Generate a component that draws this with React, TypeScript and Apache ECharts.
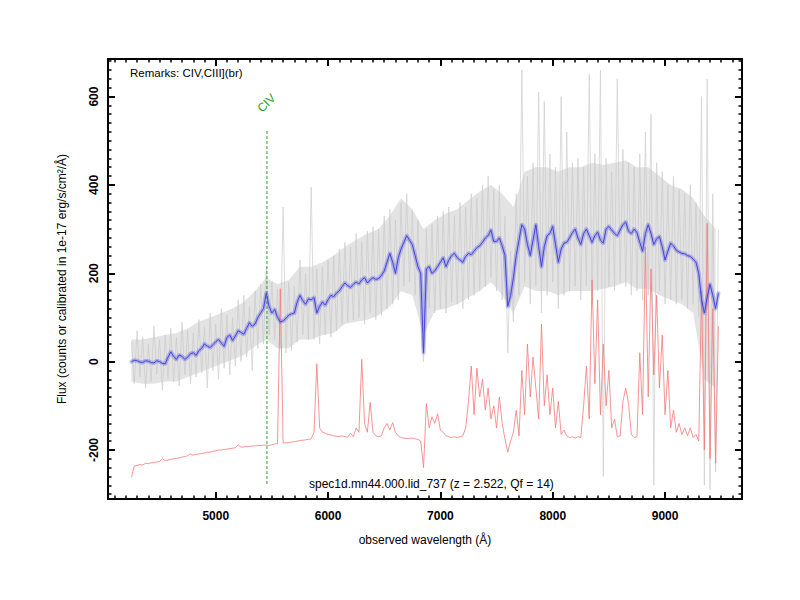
import React, { useEffect, useRef } from "react";
import * as echarts from "echarts";

const X_MIN = 4041;
const X_MAX = 9685;
const Y_MIN = -311;
const Y_MAX = 685;

const FONT = "'Liberation Sans', Arial, Helvetica, sans-serif";

// observed flux (individual exposures, grey), sampled every 25 Å from 4250 Å
const GRAY_START = 4250;
const GRAY_STEP = 25;
const grayFlux = [
  45, -50, 70, -35, 55, -60, 40, -45, 80, -30,
  50, -65, 60, -40, 75, -45, 55, -55, 90, -30,
  70, -50, 65, -35, 95, -25, 80, -60, 110, -20,
  85, -40, 120, -15, 105, -30, 100, -10, 140, 0,
  150, 10, 125, -20, 160, 30, 175, 40, 215, 60,
  180, 50, 165, 30, 350, 20, 180, 25, 170, 45,
  230, 60, 200, 50, 395, 50, 210, 40, 215, 60,
  230, 55, 240, 70, 255, 85, 270, 90, 260, 95,
  290, 100, 270, 85, 295, 110, 305, 95, 300, 105,
  330, 120, 345, 130, 320, 140, 360, 170, 380, 180,
  340, 150, 320, 110, 0, 300, 120, 310, 110, 330,
  120, 340, 110, 350, 135, 330, 130, 360, 120, 350,
  140, 380, 150, 370, 160, 400, 170, 420, 190, 390,
  160, 400, 140, 330, 20, 250, 90, 380, 150, 660,
  180, 420, 130, 450, 170, 610, 110, 590, 150, 470,
  180, 440, 120, 600, 150, 520, 160, 450, 170, 460,
  140, 440, 170, 650, 130, 470, 160, 660, -260, 460,
  170, 430, 160, 640, 180, 480, 170, 450, 150, 440,
  160, 470, 140, 520, 150, 560, -280, 450, 160, 430,
  130, 400, 140, 420, 130, 390, 140, 380, 120, 400,
  130, 360, 100, 600, -280, 640, -290, 380, -250, 300,
];

// envelope of the dense part of the exposures, every 100 Å from 4250 Å
const ENV_START = 4250;
const ENV_STEP = 100;
const grayLower = [
  -45, -50, -50, -45, -45, -35, -25, -15, -5, 5,
  15, 35, 50, 30, 30, 50, 50, 60, 65, 85,
  90, 95, 105, 125, 160, 150, 60, 115, 120, 130,
  145, 160, 180, 150, 110, 170, 160, 160, 150, 160,
  160, 160, 165, 170, 180, 165, 165, 150, 140, 130,
  110, -40, -60,
];
const grayUpper = [
  50, 50, 55, 60, 65, 75, 90, 100, 110, 120,
  135, 160, 190, 175, 185, 215, 215, 225, 240, 260,
  275, 290, 300, 330, 370, 345, 300, 320, 335, 345,
  365, 385, 400, 380, 350, 430, 440, 440, 430, 440,
  440, 450, 445, 450, 455, 440, 440, 420, 400, 390,
  370, 330, 300,
];

// smoothed flux (blue), every 25 Å from 4250 Å
const BLUE_START = 4250;
const BLUE_STEP = 25;
const blueFlux = [
  0, 3, 2, -1, -2, 2, 1, -2, -3, 2,
  0, -4, -5, 10, 22, 12, 5, 15, 12, 5,
  10, 18, 20, 14, 25, 30, 40, 35, 32, 38,
  45, 50, 42, 35, 55, 60, 48, 58, 70, 66,
  62, 75, 88, 80, 85, 100, 110, 120, 155, 125,
  110, 118, 100, 90, 92, 98, 105, 108, 110, 135,
  150, 138, 130, 142, 140, 145, 110, 125, 135, 128,
  140, 150, 147, 155, 160, 170, 178, 172, 168, 175,
  180, 176, 185, 190, 178, 185, 190, 186, 188, 195,
  205, 225, 245, 225, 200, 235, 255, 270, 285, 275,
  265, 240, 215, 200, 20, 210, 215, 200, 205, 215,
  225, 235, 215, 230, 240, 245, 235, 230, 225, 238,
  245, 242, 250, 258, 262, 270, 280, 285, 298, 272,
  272, 280, 262, 240, 125, 150, 190, 240, 275, 310,
  300, 265, 240, 275, 310, 260, 215, 260, 285, 290,
  306, 265, 225, 255, 268, 270, 280, 292, 300, 280,
  265, 290, 300, 285, 270, 285, 293, 275, 268, 300,
  306, 298, 290, 285, 298, 310, 316, 295, 290, 300,
  292, 270, 250, 290, 310, 290, 265, 278, 283, 260,
  230, 250, 268, 262, 252, 248, 245, 244, 240, 238,
  232, 225, 200, 140, 110, 145, 175, 150, 120, 155,
];

// sky / error spectrum (red), every 25 Å from 4250 Å
const RED_START = 4250;
const RED_STEP = 25;
const redFlux = [
  -262, -236, -235, -233, -234, -230, -231, -229, -229, -227,
  -226, -220, -224, -223, -221, -220, -219, -218, -216, -215,
  -213, -209, -212, -210, -209, -208, -207, -205, -205, -203,
  -202, -200, -200, -199, -198, -197, -196, -195, -188, -194,
  -193, -192, -192, -191, -191, -190, -190, -189, -189, -190,
  -188, -186, -186, 165, -184, -184, -183, -182, -181, -180,
  -179, -178, -177, -176, -175, -160, -5, -150, -160, -162,
  -165, -166, -168, -169, -170, -168, -170, -171, -162, -170,
  -150, -160, 5, -140, -160, -92, -160, -168, -170, -168,
  -150, -140, -155, -138, -160, -168, -172, -173, -174, -174,
  -173, -175, -176, -180, -240, -95, -150, -125, -140, -118,
  -155, -160, -168, -170, -172, -170, -172, -170, -168, -150,
  -90, -10, -120, -15, -80, -40, -110, -60, -130, -100,
  -150, -80, -140, -175, -205, -180, -160, -110, -168, -20,
  -120, 40, -80, 10, -60, -130, 85, -100, -30, -120,
  -60, -150, -90, -165, -155, -168, -172, -170, -173, -170,
  -172, -100, -10, -130, 185, -50, 140, -120, 40, -100,
  -20, -150, -130, -170, -168, -90, -60, -95, -165, -172,
  -170, 20, -120, 260, -80, 210, -30, 150, -60, 60,
  -120, -20, -150, -110, -160, -140, -165, -150, -168, -150,
  -172, -165, -180, 160, -200, 313, -220, 120, -230, 80,
];

const CIV_WAVE = 5456;
const civLineFlux = [-277, 525];
const civLabelAt = [5451, 585];
const remarksText = "Remarks: CIV,CIII](br)";
const specText = "spec1d.mn44.000.lid_737 (z = 2.522, Qf = 14)";
const xName = "observed wavelength (Å)";
const yName = "Flux (counts or calibrated in 1e-17 erg/s/cm²/Å)";

const toPairs = (start: number, step: number, vals: number[]) =>
  vals.map((v, i) => [start + step * i, v]);

export default function App() {
  const ref = useRef<HTMLDivElement>(null);
  useEffect(() => {
    document.body.style.margin = "0";
    if (!ref.current) return;
    const chart = echarts.init(ref.current, undefined, { renderer: "svg" });
    const axisLine = { show: true, onZero: false, lineStyle: { color: "#000", width: 2 } };
    const tick = { show: true, inside: true, length: 7, lineStyle: { color: "#000", width: 2 } };
    const minorTick = { show: true, splitNumber: 10, length: 3.5, lineStyle: { color: "#000", width: 1.5 } };
    const grid = { left: 108, top: 59, width: 634, height: 440 };
    chart.setOption({
      animation: false,
      backgroundColor: "#fff",
      grid,
      xAxis: [
        {
          type: "value", min: X_MIN, max: X_MAX, splitNumber: 5, position: "bottom",
          axisLine, axisTick: tick, minorTick, splitLine: { show: false },
          axisLabel: { show: true, margin: 11, fontSize: 12, fontWeight: "bold", color: "#000", fontFamily: FONT,
            showMinLabel: false, showMaxLabel: false, formatter: (v: number) => String(v) },
          name: xName, nameLocation: "middle", nameGap: 35,
          nameTextStyle: { fontSize: 12, color: "#000", fontFamily: FONT },
        },
        {
          type: "value", min: X_MIN, max: X_MAX, splitNumber: 5, position: "top",
          axisLine, axisTick: tick, minorTick, splitLine: { show: false }, axisLabel: { show: false },
        },
      ],
      yAxis: [
        {
          type: "value", min: Y_MIN, max: Y_MAX, splitNumber: 5, position: "left",
          axisLine, axisTick: tick, minorTick, splitLine: { show: false },
          axisLabel: { show: true, rotate: 90, margin: 8, fontSize: 12, fontWeight: "bold", color: "#000", fontFamily: FONT,
            showMinLabel: false, showMaxLabel: false, formatter: (v: number) => String(v) },
          name: yName, nameLocation: "middle", nameGap: 40, nameRotate: 90,
          nameTextStyle: { fontSize: 12, color: "#000", fontFamily: FONT },
        },
        {
          type: "value", min: Y_MIN, max: Y_MAX, splitNumber: 5, position: "right",
          axisLine, axisTick: tick, minorTick, splitLine: { show: false }, axisLabel: { show: false },
        },
      ],
      series: [
        {
          type: "line", name: "exposures", data: toPairs(GRAY_START, GRAY_STEP, grayFlux),
          showSymbol: false, symbol: "none", z: 1,
          lineStyle: { color: "#d2d2d2", width: 0.8 },
        },
        {
          type: "custom", name: "envelope", z: 2, silent: true,
          data: [[ENV_START, grayLower[0]]],
          renderItem: (_params: any, api: any) => {
            const pts: number[][] = [];
            grayUpper.forEach((v, i) => pts.push(api.coord([ENV_START + ENV_STEP * i, v])));
            for (let i = grayLower.length - 1; i >= 0; i--) {
              pts.push(api.coord([ENV_START + ENV_STEP * i, grayLower[i]]));
            }
            return { type: "polygon", shape: { points: pts }, style: { fill: "rgba(200,200,200,0.5)", stroke: "none" } };
          },
        },
        {
          type: "line", name: "sky", data: toPairs(RED_START, RED_STEP, redFlux),
          showSymbol: false, symbol: "none", z: 3,
          lineStyle: { color: "#f27a7a", width: 0.8 },
        },
        {
          type: "line", name: "CIV", data: [[CIV_WAVE, civLineFlux[0]], [CIV_WAVE, civLineFlux[1]]],
          showSymbol: false, symbol: "none", z: 4, silent: true,
          lineStyle: { color: "#2ca02c", type: [3, 2], width: 1 },
        },
        {
          type: "line", name: "band", data: toPairs(BLUE_START, BLUE_STEP, blueFlux),
          showSymbol: false, symbol: "none", z: 5,
          lineStyle: { color: "rgba(80,80,220,0.35)", width: 4, join: "round", cap: "round" },
        },
        {
          type: "line", name: "smoothed", data: toPairs(BLUE_START, BLUE_STEP, blueFlux),
          showSymbol: false, symbol: "none", z: 6,
          lineStyle: { color: "#4646dc", width: 1 },
        },
      ],
    });
    const civPx = chart.convertToPixel({ xAxisIndex: 0, yAxisIndex: 0 }, civLabelAt) as number[];
    chart.setOption({
      graphic: [
        { type: "text", left: 130, top: 67, style: { text: remarksText, fill: "#000", font: `11.5px ${FONT}` } },
        { type: "text", left: 309, top: 478, style: { text: specText, fill: "#000", font: `12px ${FONT}` } },
        {
          type: "text", x: civPx[0], y: civPx[1], rotation: Math.PI / 4,
          style: { text: "CIV", fill: "#2ca02c", font: `12px ${FONT}`, align: "center", verticalAlign: "middle" },
        },
      ],
    });
    return () => chart.dispose();
  }, []);
  return <div ref={ref} style={{ width: 800, height: 600 }} />;
}
